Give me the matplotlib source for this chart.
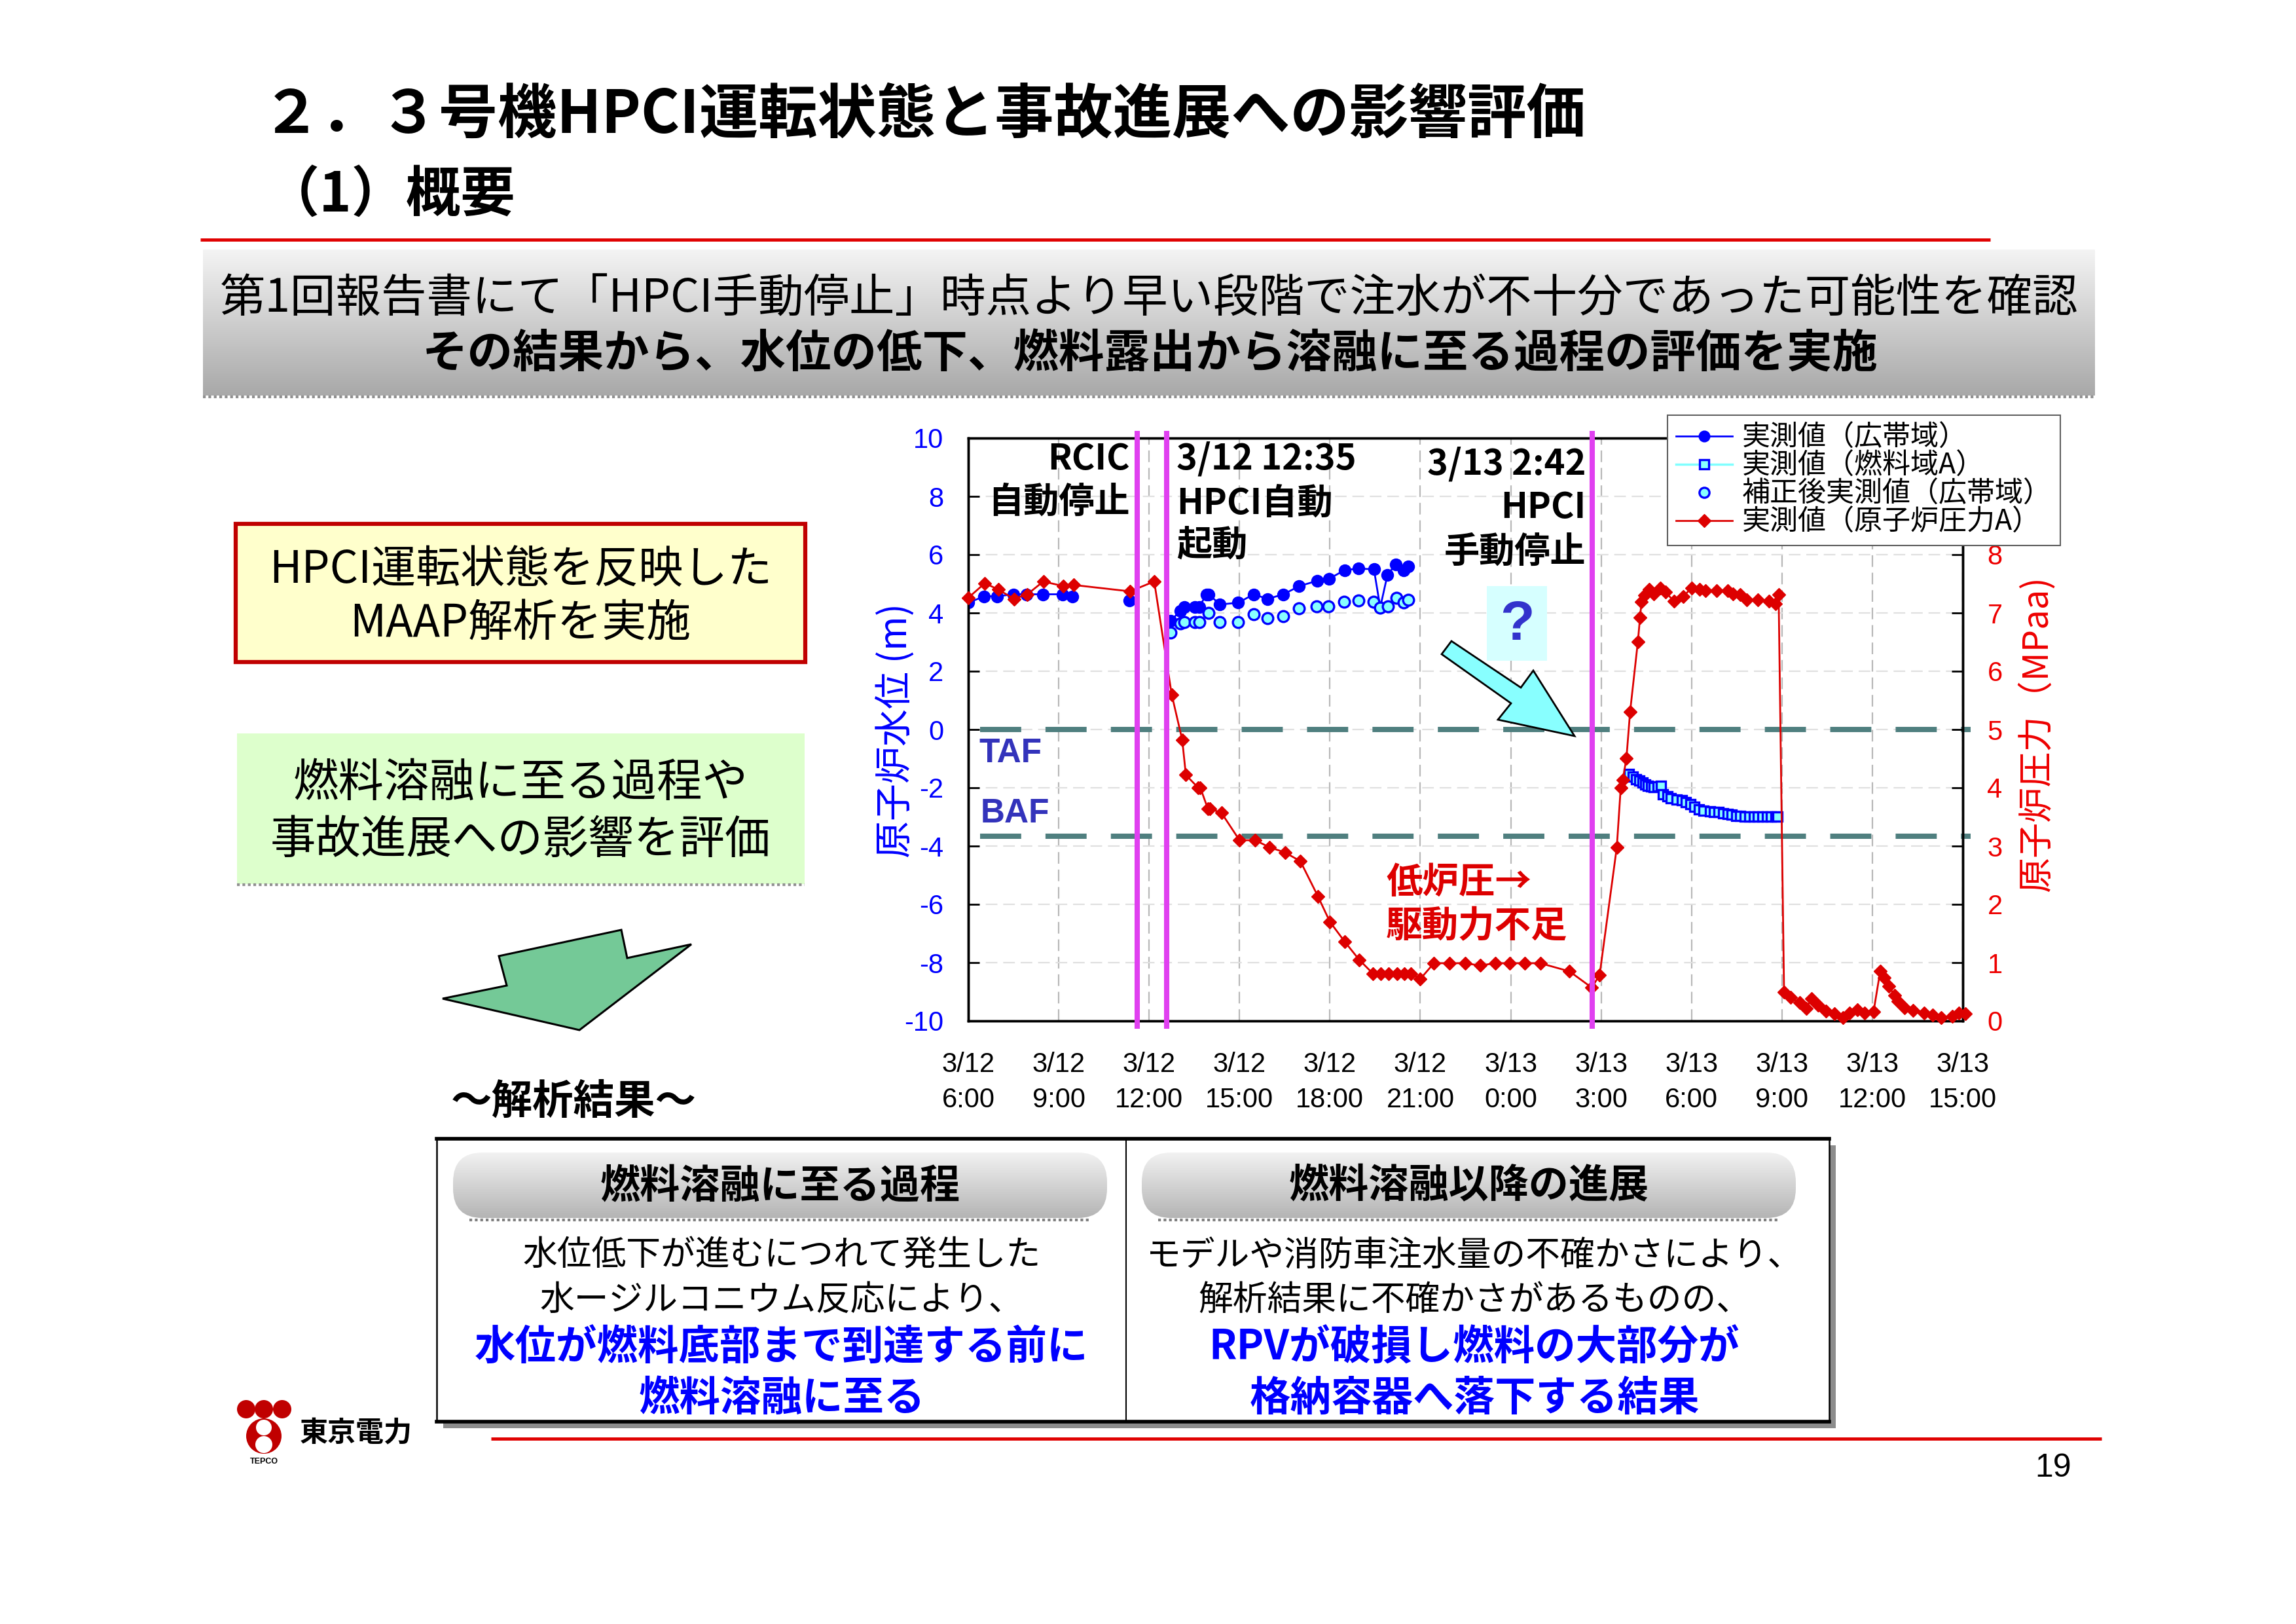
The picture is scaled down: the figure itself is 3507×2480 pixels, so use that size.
import numpy as np
import matplotlib
matplotlib.use('Agg')
import matplotlib.pyplot as plt
from matplotlib.patches import Rectangle, Polygon, Circle, FancyBboxPatch
from matplotlib.lines import Line2D
from matplotlib.colors import LinearSegmentedColormap

plt.rcParams['font.family'] = ['Noto Sans CJK JP', 'DejaVu Sans']
plt.rcParams['axes.unicode_minus'] = False
LAT = ['Liberation Sans', 'DejaVu Sans']

# ---- data (hours since 3/12 6:00) ----
x_ticks = [0, 3, 6, 9, 12, 15, 18, 21, 24, 27, 30, 33]
x_labels = ['3/12\n6:00', '3/12\n9:00', '3/12\n12:00', '3/12\n15:00', '3/12\n18:00', '3/12\n21:00',
            '3/13\n0:00', '3/13\n3:00', '3/13\n6:00', '3/13\n9:00', '3/13\n12:00', '3/13\n15:00']

# 原子炉水位 広帯域 (m), nan = gap
wide_t = [0.0, 0.53, 0.95, 1.49, 1.94, 2.48, 3.13, 3.46, np.nan, 5.34, np.nan,
          6.72, 7.04, 7.18, 7.52, 7.66, 7.91, 7.98, 8.35, 8.96, 9.47, 9.93, 10.46, 10.98,
          11.57, 11.97, 12.49, 12.94, 13.46, 13.67, 13.91, 14.18, 14.45, 14.60]
wide_v = [4.35, 4.57, 4.57, 4.64, 4.64, 4.64, 4.64, 4.56, np.nan, 4.42, np.nan,
          3.74, 4.07, 4.21, 4.21, 4.21, 4.64, 4.64, 4.29, 4.35, 4.64, 4.48, 4.64, 4.92,
          5.10, 5.17, 5.47, 5.52, 5.50, 4.19, 5.31, 5.66, 5.45, 5.59]

# 補正後実測値 (広帯域)
corr_t = [6.72, 7.04, 7.18, 7.52, 7.66, 7.98, 8.35, 8.96, 9.47, 9.93, 10.46, 10.98,
          11.56, 11.95, 12.48, 12.94, 13.44, 13.67, 13.93, 14.20, 14.45, 14.60]
corr_v = [3.33, 3.63, 3.69, 3.69, 3.69, 4.00, 3.69, 3.69, 3.96, 3.82, 3.88, 4.16,
          4.23, 4.23, 4.38, 4.42, 4.38, 4.17, 4.23, 4.52, 4.35, 4.45]

# 燃料域A
fuel_t = [21.93, 22.05, 22.15, 22.26, 22.38, 22.46, 22.54, 22.65, 22.75, 22.88,
          22.99, 23.06, 23.20, 23.31, 23.50, 23.67, 23.82, 23.96, 24.10, 24.25,
          24.40, 24.61, 24.75, 24.90, 25.05, 25.19, 25.33, 25.48, 25.62, 25.77,
          25.92, 26.06, 26.20, 26.35, 26.50, 26.64, 26.78, 26.86]
fuel_v = [-1.52, -1.62, -1.71, -1.76, -1.82, -1.88, -1.93, -1.96, -1.97, -1.95,
          -1.93, -2.22, -2.30, -2.37, -2.40, -2.42, -2.50, -2.57, -2.66, -2.75,
          -2.78, -2.81, -2.83, -2.84, -2.87, -2.90, -2.93, -2.96, -2.97, -2.98,
          -2.98, -2.98, -2.98, -2.98, -2.98, -2.98, -2.98, -2.98]

# 原子炉圧力A (MPaa)
p_t = [0.0, 0.55, 1.0, 1.52, 1.96, 2.49, 3.15, 3.49, 5.37, 6.17,
       6.75, 7.10, 7.22, 7.63, 7.70, 7.95, 8.02, 8.40, 9.0, 9.52,
       9.99, 10.51, 11.02, 11.6, 12.0, 12.49, 12.97, 13.43, 13.68, 13.95,
       14.22, 14.47, 14.69, 15.0, 15.45, 15.97, 16.49, 16.98, 17.48, 17.97,
       18.47, 18.98, 19.95, 20.69, 20.95, 21.52, 21.65, 21.72, 21.84, 21.96,
       22.22, 22.29, 22.34, 22.45, 22.59, 22.75, 22.96, 23.14, 23.41, 23.72,
       24.0, 24.26, 24.47, 24.83, 25.19, 25.37, 25.62, 25.84, 26.2, 26.56,
       26.78, 26.89, 27.07, 27.29, 27.58, 27.8, 27.98, 28.2, 28.45, 28.74,
       29.03, 29.24, 29.5, 29.75, 30.04, 30.26, 30.4, 30.55, 30.73, 30.84,
       31.06, 31.35, 31.71, 32.0, 32.29, 32.65, 32.87, 33.08]
p_v = [7.26, 7.51, 7.40, 7.24, 7.32, 7.54, 7.46, 7.48, 7.37, 7.54,
       5.60, 4.82, 4.22, 4.00, 4.00, 3.64, 3.64, 3.57, 3.10, 3.10,
       2.98, 2.89, 2.74, 2.14, 1.70, 1.36, 1.05, 0.81, 0.81, 0.81,
       0.81, 0.81, 0.81, 0.72, 0.99, 0.99, 0.99, 0.95, 0.99, 0.99,
       0.99, 0.99, 0.85, 0.57, 0.79, 2.98, 4.00, 4.14, 4.51, 5.30,
       6.51, 6.92, 7.19, 7.30, 7.41, 7.33, 7.43, 7.36, 7.20, 7.28,
       7.43, 7.41, 7.38, 7.38, 7.38, 7.33, 7.32, 7.22, 7.22, 7.20,
       7.16, 7.31, 0.49, 0.40, 0.31, 0.21, 0.38, 0.27, 0.17, 0.12,
       0.06, 0.14, 0.19, 0.14, 0.16, 0.85, 0.74, 0.59, 0.44, 0.34,
       0.23, 0.18, 0.14, 0.10, 0.06, 0.08, 0.14, 0.12]

taf = 0.0
baf = -3.66
events = [5.6, 6.583, 20.7]   # RCIC停止, HPCI起動, HPCI手動停止

legend_labels = ['実測値（広帯域）', '実測値（燃料域A）', '補正後実測値（広帯域）', '実測値（原子炉圧力A）']

# ---- figure ----
W, H = 3507, 2480
fig = plt.figure(figsize=(W / 100, H / 100), dpi=100)

bg = fig.add_axes([0, 0, 1, 1])
bg.axis('off')


def grad(axx, x0, y0, x1, y1, ctop, cbot, clip=None, z=1):
    cm = LinearSegmentedColormap.from_list('g', [ctop, cbot])
    im = axx.imshow(np.linspace(0, 1, 256).reshape(-1, 1), cmap=cm, aspect='auto',
                    extent=(x0, x1, y1, y0), origin='upper', zorder=z, interpolation='bilinear')
    if clip is not None:
        im.set_clip_path(clip)
    return im


# title
bg.text(400, 176, '２．３号機HPCI運転状態と事故進展への影響評価', fontsize=65, fontweight='bold',
        ha='left', va='center')
bg.text(405, 298, '（1）概要', fontsize=60, fontweight='bold', ha='left', va='center')
bg.plot([306, 3040], [366, 366], color='#e00000', lw=3.5, solid_capstyle='butt')

# gray banner
grad(bg, 310, 381, 3200, 604, '#f4f4f4', '#a8a8a8')
bg.plot([310, 3200], [606, 606], color='#909090', lw=3, ls=(0, (1, 1)))
bg.text(1755, 457, '第1回報告書にて「HPCI手動停止」時点より早い段階で注水が不十分であった可能性を確認',
        fontsize=50, ha='center', va='center')
bg.text(1757, 541, 'その結果から、水位の低下、燃料露出から溶融に至る過程の評価を実施',
        fontsize=50, fontweight='bold', ha='center', va='center')

# left boxes
bg.add_patch(Rectangle((360, 800), 870, 211, fc='#ffffcc', ec='#c00000', lw=4.5, zorder=2))
bg.text(795, 871, 'HPCI運転状態を反映した', fontsize=49, ha='center', va='center', zorder=3)
bg.text(795, 954, 'MAAP解析を実施', fontsize=49, ha='center', va='center', zorder=3)

bg.add_patch(Rectangle((362, 1120), 867, 230, fc='#ddffcc', ec='none', zorder=2))
bg.plot([362, 1229], [1351, 1351], color='#909090', lw=3, ls=(0, (1, 1)), zorder=3)
bg.text(795, 1196, '燃料溶融に至る過程や', fontsize=50, ha='center', va='center', zorder=3)
bg.text(795, 1283, '事故進展への影響を評価', fontsize=50, ha='center', va='center', zorder=3)

# green arrow
bg.add_patch(Polygon([(762, 1460), (949, 1420), (958, 1463), (1056, 1442), (885, 1573),
                      (676, 1525), (774, 1505)], closed=True, fc='#74c997', ec='black', lw=2.2, zorder=2))

bg.text(876, 1682, '～解析結果～', fontsize=45, fontweight='bold', ha='center', va='center')

# result table
tx0, ty0, tx1, ty1, tdiv = 667, 1739, 2794, 2171, 1720
bg.add_patch(Rectangle((tx0 + 10, ty0 + 10), tx1 - tx0, ty1 - ty0, fc='#8c8c8c', ec='none', zorder=1))
bg.add_patch(Rectangle((tx0, ty0), tx1 - tx0, ty1 - ty0, fc='white', ec='black', lw=1.8, zorder=2))
bg.plot([tx0, tx1], [ty0, ty0], color='black', lw=4, zorder=3)
bg.plot([tx0, tx1], [ty1, ty1], color='black', lw=4, zorder=3)
bg.plot([tdiv, tdiv], [ty0, ty1], color='black', lw=1.5, zorder=3)

headers = ['燃料溶融に至る過程', '燃料溶融以降の進展']
head_x = [(692, 1691), (1744, 2743)]
for (hx0, hx1), htxt in zip(head_x, headers):
    bg.plot([hx0 + 25, hx1 - 25], [1863, 1863], color='#808080', lw=3, ls=(0, (1, 1)), zorder=3)
    pill = FancyBboxPatch((hx0, 1760), hx1 - hx0, 100, boxstyle='round,pad=0,rounding_size=45',
                          fc='none', ec='none', transform=bg.transData)
    bg.add_patch(pill)
    grad(bg, hx0, 1760, hx1, 1860, '#f2f2f2', '#b4b4b4', clip=pill, z=4)
    bg.text((hx0 + hx1) / 2, 1812, htxt, fontsize=44, fontweight='bold', ha='center', va='center', zorder=5)

body_y = [1917, 1985, 2058, 2135]
left_lines = ['水位低下が進むにつれて発生した', '水ージルコニウム反応により、',
              '水位が燃料底部まで到達する前に', '燃料溶融に至る']
right_lines = ['モデルや消防車注水量の不確かさにより、', '解析結果に不確かさがあるものの、',
               'RPVが破損し燃料の大部分が', '格納容器へ落下する結果']
for cx, lines in [(1194, left_lines), (2252, right_lines)]:
    for i, (yy, s) in enumerate(zip(body_y, lines)):
        if i < 2:
            bg.text(cx, yy, s, fontsize=38, ha='center', va='center', zorder=5)
        else:
            bg.text(cx, yy, s, fontsize=45, fontweight='bold', color='#0000ff',
                    ha='center', va='center', zorder=5)

# footer
bg.plot([750, 3210], [2197, 2197], color='#e00000', lw=3.5, solid_capstyle='butt')
bg.text(3136, 2242, '19', fontsize=36, family=LAT, ha='center', va='center')
for cx in [376, 403, 431]:
    bg.add_patch(Circle((cx, 2152), 14, fc='#c00000', ec='none'))
bg.add_patch(Circle((403, 2193), 27, fc='#c00000', ec='none'))
bg.add_patch(Circle((403, 2180), 12, fc='white', ec='none'))
bg.add_patch(Circle((403, 2206), 13, fc='white', ec='none'))
bg.text(403, 2232, 'TEPCO', fontsize=9, fontweight='bold', family=LAT, ha='center', va='center')
bg.text(458, 2188, '東京電力', fontsize=31, fontweight='bold', ha='left', va='center')

bg.set_xlim(0, W)
bg.set_ylim(H, 0)

# ---- chart ----
ax = fig.add_axes([1479 / W, 1 - 1559 / H, (2998 - 1479) / W, (1559 - 669) / H])
ax2 = ax.twinx()

ax.set_xlim(0, 33)
ax.set_ylim(-10, 10)
ax2.set_ylim(0, 10)
ax.set_yticks(range(-10, 11, 2))
ax2.set_yticks(range(0, 9))
ax.set_xticks(x_ticks)
ax.set_xticklabels(x_labels, fontsize=30, family=LAT, linespacing=1.45)
ax.tick_params(axis='x', length=0, pad=34)
ax.tick_params(axis='y', direction='in', length=12, width=2, labelsize=30, labelcolor='#0000ff', pad=27)
ax2.tick_params(axis='y', direction='in', length=12, width=2, labelsize=30, labelcolor='#ee0000', pad=27)
for lbl in ax.get_yticklabels() + ax2.get_yticklabels():
    lbl.set_fontfamily(LAT)
for a in (ax, ax2):
    for sp in a.spines.values():
        sp.set_linewidth(2.5)

ax.xaxis.grid(True, color='#b8b8b8', lw=1.6, ls=(0, (8, 4)))
ax.yaxis.grid(True, color='#e0e0e0', lw=1.6, ls=(0, (8, 4)))
ax.set_axisbelow(True)

for lvl in (taf, baf):
    ax.plot([0.4, 33.27], [lvl, lvl], color='#4f7f7f', lw=5.8, dashes=(7.8, 4.6),
            solid_capstyle='butt', clip_on=False, zorder=2)

ax.plot(wide_t, wide_v, color='#0000ff', marker='o', ms=13, lw=2, zorder=4)
ax.plot(corr_t, corr_v, ls='none', marker='o', ms=12, mfc='#88ffff', mec='#0000ff', mew=2.4, zorder=4)
ax.plot(fuel_t, fuel_v, color='#80ffff', lw=2, marker='s', ms=10, mfc='#88ffff', mec='#0000ff',
        mew=2.4, zorder=4)
ax2.plot(p_t, p_v, color='#dd0000', marker='D', ms=10.5, lw=2, clip_on=False, zorder=3)

for ev in events:
    ax2.axvline(ev, ymin=-0.009, ymax=1.008, color='#e040f0', lw=5.8, clip_on=False, zorder=6)

handles = [
    Line2D([], [], color='#0000ff', marker='o', ms=12, lw=2),
    Line2D([], [], color='#80ffff', marker='s', ms=10, mfc='#88ffff', mec='#0000ff', mew=2.4, lw=2.5),
    Line2D([], [], ls='none', marker='o', ms=11, mfc='#88ffff', mec='#0000ff', mew=2.4),
    Line2D([], [], color='#dd0000', marker='D', ms=10.5, lw=2),
]
leg = ax2.legend(handles, legend_labels, loc='upper left', bbox_to_anchor=(2547 / W, 1 - 634 / H),
                 bbox_transform=fig.transFigure, fontsize=31, handlelength=2.0, handletextpad=0.35,
                 labelspacing=-0.02, borderpad=0.3, borderaxespad=0, frameon=True, fancybox=False,
                 framealpha=1)
leg.get_frame().set_edgecolor('#606060')
leg.get_frame().set_linewidth(1.5)
leg.set_zorder(10)

# ---- overlay annotations ----
ov = fig.add_axes([0, 0, 1, 1], zorder=10)
ov.axis('off')
ov.patch.set_alpha(0)

ov.text(1368, 1116, '原子炉水位 (m)', rotation=90, fontsize=41, color='#0000ff', ha='center', va='center')
ov.text(3110, 1121, '原子炉圧力（MPaa)', rotation=90, fontsize=39, color='#ee0000', ha='center', va='center')

for s, xx, yy, ha in [('RCIC', 1726, 701, 'right'), ('自動停止', 1726, 767, 'right'),
                      ('3/12 12:35', 1797, 701, 'left'), ('HPCI自動', 1797, 769, 'left'),
                      ('起動', 1797, 834, 'left'), ('3/13 2:42', 2422, 709, 'right'),
                      ('HPCI', 2422, 775, 'right'), ('手動停止', 2422, 843, 'right')]:
    ov.text(xx, yy, s, fontsize=39, fontweight='bold', ha=ha, va='center')

ov.text(1495, 1150, 'TAF', fontsize=37, fontweight='bold', family=LAT, color='#3333bb', ha='left', va='center')
ov.text(1498, 1243, 'BAF', fontsize=37, fontweight='bold', family=LAT, color='#3333bb', ha='left', va='center')

ov.text(2117, 1348, '低炉圧→', fontsize=40, fontweight='bold', color='#dd0000', ha='left', va='center')
ov.text(2117, 1415, '駆動力不足', fontsize=40, fontweight='bold', color='#dd0000', ha='left', va='center')

ov.add_patch(Rectangle((2271, 895), 92, 114, fc='#d6ffff', ec='none'))
ov.text(2317, 955, '?', fontsize=62, fontweight='bold', family=LAT, color='#3333cc', ha='center', va='center')
ov.add_patch(Polygon([(2202, 999), (2217, 979), (2323, 1050), (2342, 1024), (2405, 1124),
                      (2288, 1099), (2308, 1074)], closed=True, fc='#88ffff', ec='black', lw=2))

ov.set_xlim(0, W)
ov.set_ylim(H, 0)

fig.savefig('out.png', dpi=100, facecolor='white')
